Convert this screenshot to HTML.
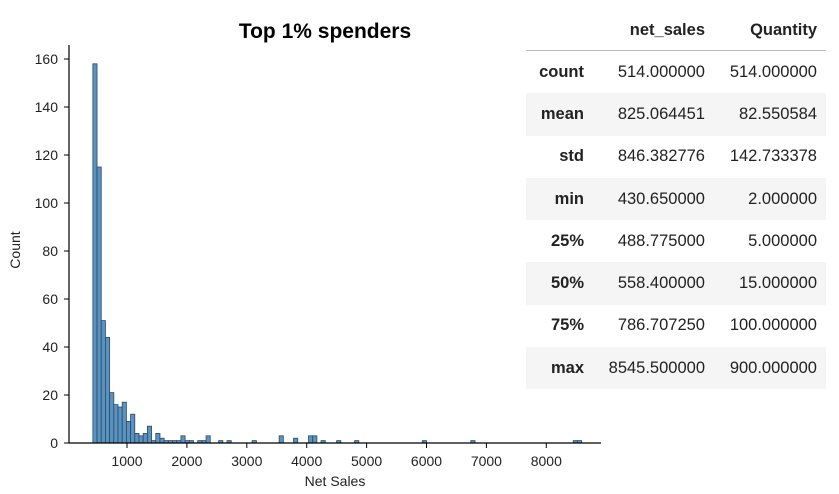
<!DOCTYPE html>
<html><head><meta charset="utf-8"><style>
body{margin:0;background:#fff;width:839px;height:494px;overflow:hidden;font-family:"Liberation Sans",sans-serif;}
svg{position:absolute;left:0;top:0}
table{position:absolute;left:526px;top:11px;border-collapse:collapse;font-family:"Liberation Sans",sans-serif;font-size:16.5px;color:#222}
th,td{text-align:right;height:42.3px;padding:0;white-space:nowrap}
thead th{height:39px;border-bottom:1px solid #bbb;font-weight:bold}
tbody tr:nth-child(even){background:#f5f5f5}
tbody th{width:58px;font-weight:bold}
.c1{width:121px}.c2{width:112px}
</style></head><body>
<svg width="839" height="494" id="chart"></svg>
<table>
<thead><tr><th></th><th class="c1">net_sales</th><th class="c2">Quantity</th><th style="width:9px"></th></tr></thead>
<tbody>
<tr><th>count</th><td>514.000000</td><td>514.000000</td><td></td></tr>
<tr><th>mean</th><td>825.064451</td><td>82.550584</td><td></td></tr>
<tr><th>std</th><td>846.382776</td><td>142.733378</td><td></td></tr>
<tr><th>min</th><td>430.650000</td><td>2.000000</td><td></td></tr>
<tr><th>25%</th><td>488.775000</td><td>5.000000</td><td></td></tr>
<tr><th>50%</th><td>558.400000</td><td>15.000000</td><td></td></tr>
<tr><th>75%</th><td>786.707250</td><td>100.000000</td><td></td></tr>
<tr><th>max</th><td>8545.500000</td><td>900.000000</td><td></td></tr>
</tbody></table>
<script>
const binLefts=[430,500,570,640,710,780,850,920,990,1060,1130,1200,1270,1340,1410,1480,1550,1620,1690,1760,1830,1900,1970,2040,2180,2250,2320,2530,2670,3090,3540,3780,4030,4100,4240,4500,4800,5930,6740,8450,8520];
const counts=[158,115,51,44,21,16,15,17,9,12,4,3,4,7,1,4,2,1,1,1,1,3,1,1,1,1,3,1,1,1,3,2,3,3,1,1,1,1,1,1,1];
const xTicks=[1000,2000,3000,4000,5000,6000,7000,8000];
const yTicks=[0,20,40,60,80,100,120,140,160];
const binW=70;
const svg=document.getElementById('chart');
const NS='http://www.w3.org/2000/svg';
const X=v=>127+(v-1000)*0.0599;
const Y=c=>443-c*2.4;
function mk(t,a){const e=document.createElementNS(NS,t);for(const k in a)e.setAttribute(k,a[k]);svg.appendChild(e);return e;}
binLefts.forEach((b,i)=>{
 const r=mk('rect',{x:X(b),y:Y(counts[i]),width:X(b+binW)-X(b),height:443-Y(counts[i]),fill:'#5a92c0',stroke:'#2b4a66','stroke-width':0.8});
 
 
});
const ya=mk('line',{x1:69,y1:45,x2:69,y2:443,stroke:'#000','stroke-width':1.2});


const xa=mk('line',{x1:69,y1:443,x2:601,y2:443,stroke:'#000','stroke-width':1.2});


yTicks.forEach(t=>{
 mk('line',{x1:64,y1:Y(t),x2:69,y2:Y(t),stroke:'#000'});
 const l=mk('text',{x:58,y:Y(t)+5,'text-anchor':'end','font-size':14,fill:'#222'});l.textContent=t;
 
 
});
xTicks.forEach(t=>{
 mk('line',{x1:X(t),y1:443,x2:X(t),y2:448,stroke:'#000'});
 const l=mk('text',{x:X(t),y:466,'text-anchor':'middle','font-size':14,fill:'#222'});l.textContent=t;
 
 
});
const ti=mk('text',{x:325,y:38,'text-anchor':'middle','font-size':21,'font-weight':'bold',fill:'#000'});ti.textContent='Top 1% spenders';


const xt=mk('text',{x:335,y:486,'text-anchor':'middle','font-size':14,fill:'#222'});xt.textContent='Net Sales';


const yt=mk('text',{x:20,y:250,'text-anchor':'middle','font-size':14,fill:'#222',transform:'rotate(-90 20 250)'});yt.textContent='Count';


</script>
</body></html>
